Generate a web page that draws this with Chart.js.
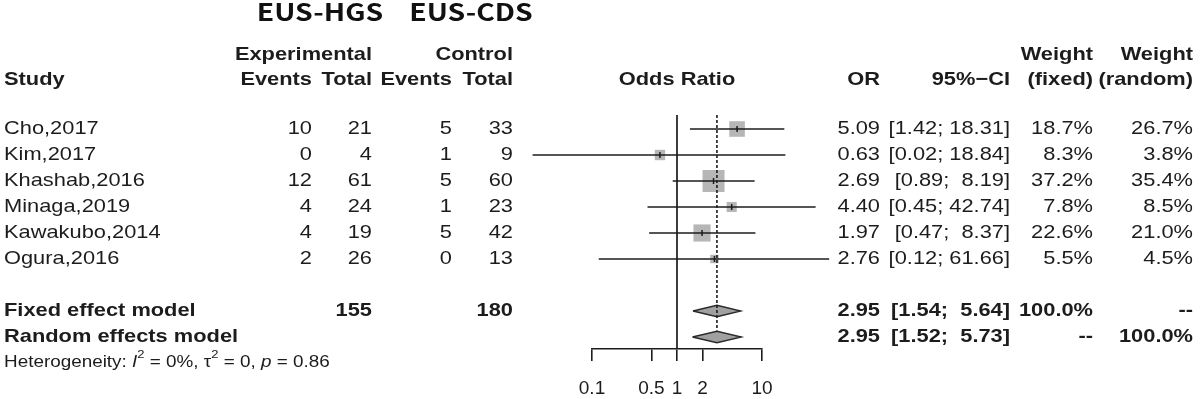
<!DOCTYPE html>
<html>
<head>
<meta charset="utf-8">
<script src="https://cdn.jsdelivr.net/npm/chart.js@4.4.1/dist/chart.umd.min.js"></script>
<style>
  html, body { margin: 0; padding: 0; background: #fff; }
  #wrap { width: 1200px; height: 399px; position: relative; }
</style>
</head>
<body>
<div id="wrap"><canvas id="forestChart" width="1200" height="399"></canvas></div>
<script>
// study data
const studies = ["Cho,2017", "Kim,2017", "Khashab,2016", "Minaga,2019", "Kawakubo,2014", "Ogura,2016"];
const expEvents = [10, 0, 12, 4, 4, 2];
const expTotal = [21, 4, 61, 24, 19, 26];
const ctrlEvents = [5, 1, 5, 1, 5, 0];
const ctrlTotal = [33, 9, 60, 23, 42, 13];
const oddsRatios = [5.09, 0.63, 2.69, 4.40, 1.97, 2.76];
const ciLower = [1.42, 0.02, 0.89, 0.45, 0.47, 0.12];
const ciUpper = [18.31, 18.84, 8.19, 42.74, 8.37, 61.66];
const weightFixed = [18.7, 8.3, 37.2, 7.8, 22.6, 5.5];
const weightRandom = [26.7, 3.8, 35.4, 8.5, 21.0, 4.5];

// pooled models
const modelNames = ["Fixed effect model", "Random effects model"];
const modelOR = [2.95, 2.95];
const modelLower = [1.54, 1.52];
const modelUpper = [5.64, 5.73];
const modelWeightFixed = ["100.0%", "--"];
const modelWeightRandom = ["--", "100.0%"];
const totalExp = 155;
const totalCtrl = 180;

// axis ticks
const xTicks = [0.1, 0.5, 1, 2, 10];

// row layout (row index on the y scale)
const modelRows = [7, 8];
const hetRow = 9;
const yMin = -0.5385, yMax = 8.4615;

const ink = "#1c1c1c";
const sx = 1.18; // text in the reference is a bit wide

function txt(ctx, s, x, y, align, font, color) {
  ctx.save();
  ctx.translate(x, y);
  ctx.scale(sx, 1);
  ctx.font = font;
  ctx.fillStyle = color || ink;
  ctx.textAlign = align;
  ctx.textBaseline = "middle";
  ctx.fillText(s, 0, 0);
  const w = ctx.measureText(s).width * sx;
  ctx.restore();
  return w;
}

function fmtCI(lo, up) {
  return "[" + lo.toFixed(2) + "; " + up.toFixed(2).padStart(5, " ") + "]";
}

const tablePlugin = {
  id: "tableText",
  afterDraw(chart) {
    const ctx = chart.ctx;
    const yS = chart.scales.y;
    const reg = '18.5px "Liberation Sans", Arial, sans-serif';
    const bold = 'bold 18.5px "Liberation Sans", Arial, sans-serif';
    const cjk = 'bold 24px "Noto Sans CJK KR", "Noto Sans", sans-serif';

    // group labels
    txt(ctx, "EUS-HGS", 320, 12, "center", cjk, "#111");
    txt(ctx, "EUS-CDS", 471, 12, "center", cjk, "#111");

    // column headers
    txt(ctx, "Experimental", 372, 55, "right", bold);
    txt(ctx, "Control", 513, 55, "right", bold);
    txt(ctx, "Weight", 1093, 55, "right", bold);
    txt(ctx, "Weight", 1193, 55, "right", bold);
    txt(ctx, "Study", 4, 80, "left", bold);
    txt(ctx, "Events", 312, 80, "right", bold);
    txt(ctx, "Total", 372, 80, "right", bold);
    txt(ctx, "Events", 452, 80, "right", bold);
    txt(ctx, "Total", 513, 80, "right", bold);
    txt(ctx, "Odds Ratio", 677, 80, "center", bold);
    txt(ctx, "OR", 880, 80, "right", bold);
    txt(ctx, "95%\u2212CI", 1010, 80, "right", bold);
    txt(ctx, "(fixed)", 1093, 80, "right", bold);
    txt(ctx, "(random)", 1193, 80, "right", bold);

    // study rows
    studies.forEach((s, i) => {
      const y = yS.getPixelForValue(i);
      txt(ctx, s, 4, y, "left", reg);
      txt(ctx, String(expEvents[i]), 312, y, "right", reg);
      txt(ctx, String(expTotal[i]), 372, y, "right", reg);
      txt(ctx, String(ctrlEvents[i]), 452, y, "right", reg);
      txt(ctx, String(ctrlTotal[i]), 513, y, "right", reg);
      txt(ctx, oddsRatios[i].toFixed(2), 880, y, "right", reg);
      txt(ctx, fmtCI(ciLower[i], ciUpper[i]), 1010, y, "right", reg);
      txt(ctx, weightFixed[i].toFixed(1) + "%", 1093, y, "right", reg);
      txt(ctx, weightRandom[i].toFixed(1) + "%", 1193, y, "right", reg);
    });

    // pooled rows
    modelNames.forEach((m, k) => {
      const y = yS.getPixelForValue(modelRows[k]);
      txt(ctx, m, 4, y, "left", bold);
      if (k === 0) {
        txt(ctx, String(totalExp), 372, y, "right", bold);
        txt(ctx, String(totalCtrl), 513, y, "right", bold);
      }
      txt(ctx, modelOR[k].toFixed(2), 880, y, "right", bold);
      txt(ctx, fmtCI(modelLower[k], modelUpper[k]), 1010, y, "right", bold);
      txt(ctx, modelWeightFixed[k], 1093, y, "right", bold);
      txt(ctx, modelWeightRandom[k], 1193, y, "right", bold);
    });

    // heterogeneity line
    const hy = yS.getPixelForValue(hetRow);
    const small = '16px "Liberation Sans", Arial, sans-serif';
    const smallIt = 'italic 16px "Liberation Sans", Arial, sans-serif';
    const sup = '11px "Liberation Sans", Arial, sans-serif';
    let x = 4;
    x += txt(ctx, "Heterogeneity: ", x, hy, "left", small);
    x += txt(ctx, "I", x, hy, "left", smallIt);
    x += txt(ctx, "2", x, hy - 8, "left", sup);
    x += txt(ctx, " = 0%, \u03c4", x, hy, "left", small);
    x += txt(ctx, "2", x, hy - 8, "left", sup);
    x += txt(ctx, " = 0, ", x, hy, "left", small);
    x += txt(ctx, "p", x, hy, "left", smallIt);
    txt(ctx, " = 0.86", x, hy, "left", small);
  }
};

// build datasets from the arrays
const datasets = [];

// point estimate marks
datasets.push({
  data: oddsRatios.map((v, i) => ({ x: v, y: i })),
  pointStyle: "line",
  rotation: 90,
  pointRadius: 3,
  borderWidth: 1.5,
  borderColor: ink,
  showLine: false,
  clip: false
});

// confidence interval lines
studies.forEach((s, i) => {
  datasets.push({
    data: [{ x: ciLower[i], y: i }, { x: ciUpper[i], y: i }],
    showLine: true,
    borderColor: ink,
    borderWidth: 1.7,
    pointRadius: 0,
    clip: false
  });
});

// reference line at OR = 1
datasets.push({
  data: [{ x: 1, y: yMin }, { x: 1, y: yMax }],
  showLine: true,
  borderColor: ink,
  borderWidth: 1.7,
  pointRadius: 0,
  clip: false
});

// pooled estimate line (dashed)
datasets.push({
  data: [{ x: modelOR[0], y: yMin }, { x: modelOR[0], y: 7.75 }],
  showLine: true,
  borderColor: ink,
  borderWidth: 1.6,
  borderDash: [3, 2],
  pointRadius: 0,
  clip: false
});

// diamonds
modelNames.forEach((m, k) => {
  const r = modelRows[k];
  datasets.push({
    data: [
      { x: modelLower[k], y: r },
      { x: modelOR[k], y: r - 0.22 },
      { x: modelUpper[k], y: r },
      { x: modelOR[k], y: r + 0.22 },
      { x: modelLower[k], y: r }
    ],
    showLine: true,
    fill: "shape",
    backgroundColor: "#a0a0a0",
    borderColor: "#2a2a2a",
    borderWidth: 1.3,
    pointRadius: 0,
    tension: 0,
    clip: false
  });
});

// weight squares
datasets.push({
  data: oddsRatios.map((v, i) => ({ x: v, y: i })),
  pointStyle: "rect",
  pointRadius: weightFixed.map(w => 2.55 * Math.sqrt(w)),
  backgroundColor: "#b6b6b6",
  borderWidth: 0,
  showLine: false,
  clip: false
});

new Chart(document.getElementById("forestChart"), {
  type: "scatter",
  data: { datasets: datasets },
  options: {
    responsive: false,
    animation: false,
    events: [],
    layout: { padding: { left: 592, right: 438, top: 115, bottom: 0 } },
    plugins: { legend: { display: false }, tooltip: { enabled: false } },
    scales: {
      x: {
        type: "logarithmic",
        min: 0.1,
        max: 10,
        afterBuildTicks: (scale) => {
          scale.ticks = xTicks.map(v => ({ value: v }));
        },
        afterFit: (scale) => { scale.height = 50; },
        ticks: {
          autoSkip: false,
          maxRotation: 0,
          minRotation: 0,
          padding: 16,
          color: ink,
          font: { family: '"Liberation Sans", Arial, sans-serif', size: 19 },
          callback: (v) => String(v)
        },
        grid: {
          drawOnChartArea: false,
          drawTicks: true,
          tickLength: 12,
          color: ink,
          lineWidth: 1.6
        },
        border: { display: true, color: ink, width: 1.6 }
      },
      y: {
        type: "linear",
        reverse: true,
        min: yMin,
        max: yMax,
        display: false
      }
    }
  },
  plugins: [tablePlugin]
});
</script>
</body>
</html>
